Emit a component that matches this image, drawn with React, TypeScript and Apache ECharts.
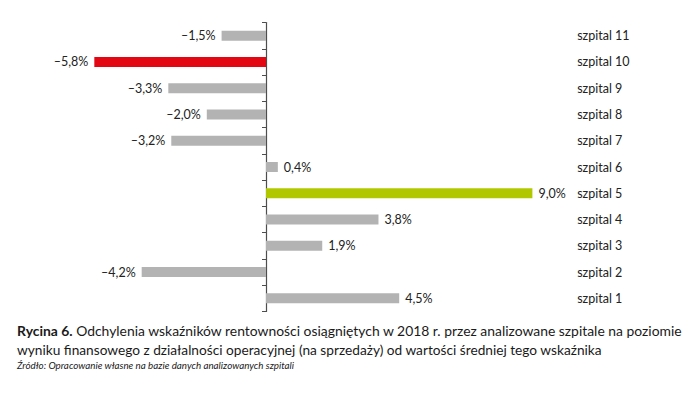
import React, { useEffect, useRef } from "react";
import * as echarts from "echarts";

const categories = ["szpital 1", "szpital 2", "szpital 3", "szpital 4", "szpital 5", "szpital 6", "szpital 7", "szpital 8", "szpital 9", "szpital 10", "szpital 11"];
const values = [4.5, -4.2, 1.9, 3.8, 9.0, 0.4, -3.2, -2.0, -3.3, -5.8, -1.5];
const highlightRed = "szpital 10";
const highlightGreen = "szpital 5";
const captionBold = "Rycina 6.";
const captionLine1 = " Odchylenia wskaźników rentowności osiągniętych w 2018 r. przez analizowane szpitale na poziomie";
const captionLine2 = "wyniku finansowego z działalności operacyjnej (na sprzedaży) od wartości średniej tego wskaźnika";
const sourceText = "Źródło: Opracowanie własne na bazie danych analizowanych szpitali";

const FONT = "Lato, 'Open Sans', sans-serif";

export default function App() {
  const ref = useRef<HTMLDivElement>(null);
  useEffect(() => {
    if (!ref.current) return;
    const chart = echarts.init(ref.current, null, { renderer: "svg" });
    const fmt = (v: number) => (v < 0 ? "–" : "") + Math.abs(v).toFixed(1).replace(".", ",") + "%";
    chart.setOption({
      animation: false,
      backgroundColor: "#ffffff",
      textStyle: { fontFamily: FONT },
      grid: { left: 80.4, width: 458.8, top: 14.5, height: 289, containLabel: false },
      xAxis: {
        type: "value",
        min: -6,
        max: 9.5,
        show: false,
      },
      yAxis: [
        {
          type: "category",
          data: categories,
          axisLine: { onZero: true, lineStyle: { color: "#4d4d4d", width: 1.2 } },
          axisTick: { show: true, length: 4, lineStyle: { color: "#4d4d4d" } },
          axisLabel: { show: false },
        },
        {
          type: "category",
          data: categories,
          position: "right",
          axisLine: { show: false },
          axisTick: { show: false },
          axisLabel: { show: true, margin: 30, align: "left", color: "#222", fontSize: 12.5, fontFamily: FONT },
        },
      ],
      series: [
        {
          type: "bar",
          yAxisIndex: 0,
          barWidth: 10,
          data: values.map((v, i) => ({
            value: v,
            itemStyle: {
              color:
                categories[i] === highlightRed ? "#e30613" : categories[i] === highlightGreen ? "#b1c800" : "#b3b3b3",
            },
            label: {
              show: true,
              position: v < 0 ? "left" : "right",
              distance: 6,
              formatter: () => fmt(v),
              color: "#222",
              fontSize: 12.5,
              fontFamily: FONT,
            },
          })),
        },
      ],
      graphic: [
        {
          type: "text",
          left: 9,
          top: 315,
          style: {
            text: "{b|" + captionBold + "}{r|" + captionLine1 + "}",
            rich: {
              b: { fontWeight: "bold", fontSize: 13.9, fontFamily: FONT, fill: "#1a1a1a" },
              r: { fontSize: 13.9, fontFamily: FONT, fill: "#1a1a1a" },
            },
          },
        },
        {
          type: "text",
          left: 9,
          top: 334,
          style: { text: captionLine2, fontSize: 13.7, fontFamily: FONT, fill: "#1a1a1a" },
        },
        {
          type: "text",
          left: 9,
          top: 352,
          style: { text: sourceText, fontSize: 9.8, fontStyle: "italic", fontFamily: FONT, fill: "#1a1a1a" },
        },
      ],
    });
    return () => chart.dispose();
  }, []);
  return <div ref={ref} style={{ width: 700, height: 395 }} />;
}
